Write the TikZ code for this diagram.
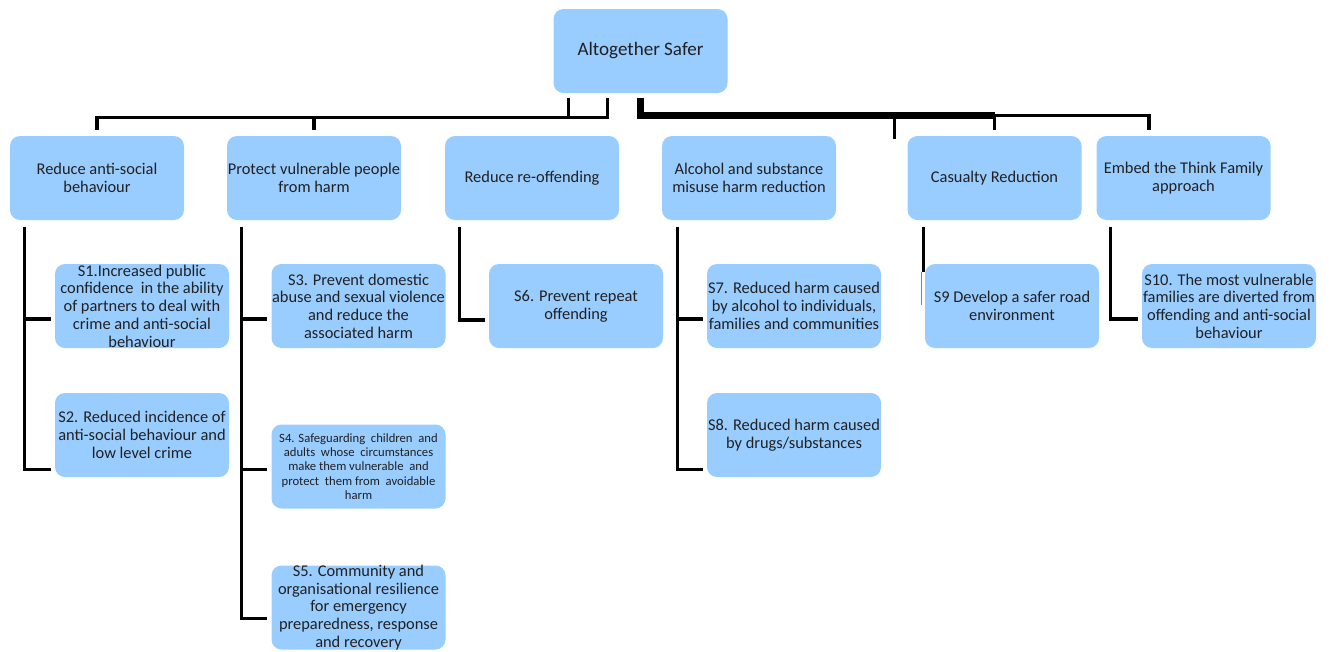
\documentclass[tikz,border=0pt]{standalone}
\usepackage{fontspec}
\setmainfont{Carlito}
\usepackage{tikz}
\definecolor{boxblue}{RGB}{153,204,255}
\definecolor{boxtext}{RGB}{33,33,33}
\tikzstyle{goal}=[fill=boxblue,rounded corners=7.5pt,text=boxtext,align=center]
\tikzstyle{goal}+=[minimum width=130.5pt,minimum height=63pt,inner xsep=0pt,inner ysep=-1.5pt,font=\fontsize{12.3}{13.3}\selectfont]
\tikzstyle{link}=[line width=2.6pt]
\tikzstyle{trunk}=[line width=5pt]

\begin{document}
\begin{tikzpicture}[x=0.75pt,y=0.75pt]
	\useasboundingbox (0,0) rectangle (1330,-651);

	\node[goal,font=\fontsize{14.3}{16}\selectfont] (top) at (640.5,-51) {Altogether Safer};

	\node[goal] (asb) at (97,-178) {Reduce anti-social\\behaviour};
	\node[goal] (vuln) at (314,-178) {Protect vulnerable people\\from harm};
	\node[goal] (reoff) at (532,-178) {Reduce re-offending};
	\node[goal] (alc) at (749,-178) {Alcohol and substance\\misuse harm reduction};
	\node[goal] (cas) at (994.5,-178) {Casualty Reduction};
	\node[goal] (think) at (1183.5,-178) {Embed the Think Family\\approach};

	\node[goal] (s1) at (142,-306) {S1.Increased public\\confidence\ \ in the ability\\of partners to deal with\\crime and anti-social\\behaviour};
	\node[goal] (s2) at (142,-435) {S2. Reduced incidence of\\anti-social behaviour and\\low level crime};
	\node[goal] (s3) at (358.5,-306) {S3. Prevent domestic\\abuse and sexual violence\\and reduce the\\associated harm};
	\node[goal,font=\fontsize{9.5}{10.7}\selectfont] (s4) at (358.5,-466.5) {S4. Safeguarding\ \ children\ \ and\\adults\ \ whose\ \ circumstances\\make them vulnerable\ \ and\\protect\ \ them from\ \ avoidable\\harm};
	\node[goal] (s5) at (358.5,-607.5) {S5. Community and\\organisational resilience\\for emergency\\preparedness, response\\and recovery};
	\node[goal] (s6) at (576,-306) {S6. Prevent repeat\\offending};
	\node[goal] (s7) at (794,-306) {S7. Reduced harm caused\\by alcohol to individuals,\\families and communities};
	\node[goal] (s8) at (794,-435) {S8. Reduced harm caused\\by drugs/substances};
	\node[goal] (s9) at (1012,-306) {S9 Develop a safer road\\environment};
	\node[goal] (s10) at (1229,-306) {S10. The most vulnerable\\families are diverted from\\offending and anti-social\\behaviour};

	% bus on the left of the top box
	\draw[link] (top.south) ++(-33,-5) -- ++(0,-19) -| ([yshift=4.5pt]asb.north);
	\draw[link] (top.south) ++(-72,-5) -- ++(0,-19);
	\draw[link] (vuln.north) ++(0,6) -- ++(0,13);

	% bus on the right of the top box
	\draw[trunk] (top.south) ++(0,-5) |- ([yshift=15pt]cas.north);
	\draw[link] ([yshift=15pt]cas.north) -| ([shift={(-34.5,6)}]think.north);
	\draw[link] ([yshift=15pt]cas.north) -- ([yshift=4.5pt]cas.north);
	\draw[link] ([shift={(-100,20)}]cas.north) -- ([shift={(-100,-3)}]cas.north);

	% from the aims down to the strands
	\draw[link]
		(asb.south west) ++(15,-7) |- ([shift={(-4,-13)}]s1.west)
		(asb.south west) ++(15,-7) |- ([shift={(-4,8)}]s2.south west)

		(vuln.south west) ++(15,-7) |- ([shift={(-4,-13)}]s3.west)
		(vuln.south west) ++(15,-7) |- ([shift={(-4,-3)}]s4.west)
		(vuln.south west) ++(15,-7) |- ([shift={(-4,-11)}]s5.west)

		(reoff.south west) ++(15,-7) |- ([shift={(-4,-14)}]s6.west)

		(alc.south west) ++(16,-7) |- ([shift={(-4,-13)}]s7.west)
		(alc.south west) ++(16,-7) |- ([shift={(-4,8)}]s8.south west)

		(think.south west) ++(14,-7) |- ([shift={(-4,-13)}]s10.west)
	;
	\draw[link] (cas.south west) ++(16,-7) -- ++(0,-45);
	\draw[gray,line width=0.6pt] (cas.south west) ++(14,-52) -- ++(0,-33);
\end{tikzpicture}
\end{document}
